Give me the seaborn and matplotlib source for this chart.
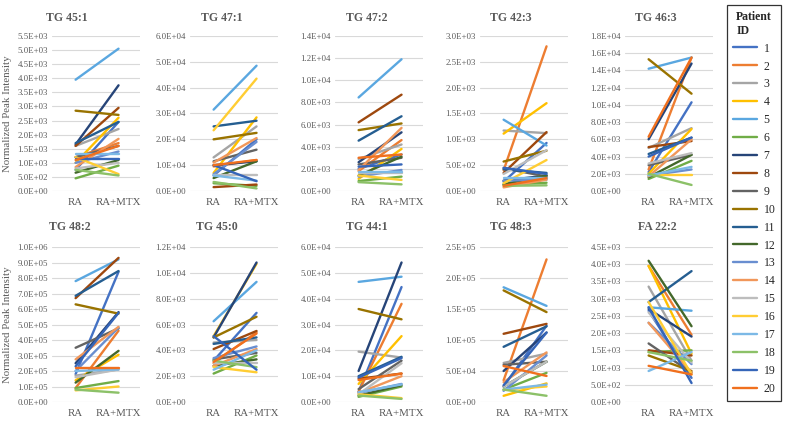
import numpy as np
import pandas as pd
import matplotlib
matplotlib.use("Agg")
import matplotlib.pyplot as plt
from matplotlib.lines import Line2D
from matplotlib.ticker import FuncFormatter, MultipleLocator
import seaborn as sns

# ---------------- data ----------------
patients = [str(i) for i in range(1, 21)]
conditions = ["RA", "RA+MTX"]
titles = ["TG 45:1", "TG 47:1", "TG 47:2", "TG 42:3", "TG 46:3",
          "TG 48:2", "TG 45:0", "TG 44:1", "TG 48:3", "FA 22:2"]

tg451_ra  = [0.75, 1.2, 1.6, 1.0, 3.95, 0.45, 1.65, 1.6, 1.2, 2.85, 1.7, 0.65, 1.0, 0.85, 0.8, 1.2, 1.3, 0.75, 1.15, 1.1]
tg451_mtx = [2.45, 1.7, 2.2, 2.6, 5.05, 0.9, 3.75, 2.95, 1.6, 2.7, 2.45, 1.1, 1.4, 1.85, 1.0, 0.6, 1.3, 0.55, 1.15, 1.6]
tg471_ra  = [0.6, 0.95, 1.3, 0.7, 3.15, 0.3, 1.0, 0.15, 1.15, 2.0, 2.5, 0.5, 0.65, 1.1, 0.6, 2.35, 0.6, 0.35, 1.0, 1.0]
tg471_mtx = [2.0, 1.2, 2.5, 2.85, 4.85, 0.2, 1.15, 0.25, 1.6, 2.25, 2.72, 1.15, 1.9, 2.05, 0.6, 4.35, 0.4, 0.1, 0.38, 1.2]
tg472_ra  = [2.0, 1.8, 2.9, 1.1, 8.45, 0.9, 2.6, 6.2, 2.4, 5.5, 4.55, 1.4, 1.3, 1.9, 1.6, 1.4, 1.7, 0.8, 2.2, 3.0]
tg472_mtx = [3.3, 4.6, 4.2, 3.8, 11.9, 1.3, 5.3, 8.7, 3.0, 6.1, 6.75, 3.1, 1.9, 5.7, 1.6, 1.0, 1.7, 0.6, 2.4, 3.3]
tg423_ra  = [1.8, 4.0, 11.7, 11.1, 13.8, 1.2, 2.0, 3.5, 4.4, 5.7, 4.2, 1.3, 2.0, 0.7, 3.3, 1.5, 2.5, 1.0, 4.5, 1.0]
tg423_mtx = [9.3, 28.0, 11.2, 17.0, 8.8, 1.6, 3.0, 11.4, 2.8, 7.8, 3.5, 3.0, 2.2, 2.2, 7.9, 6.0, 2.5, 1.1, 3.3, 2.5]
tg463_ra  = [2.2, 2.5, 5.0, 2.0, 14.2, 1.4, 6.0, 5.1, 3.0, 15.3, 4.3, 1.6, 1.8, 1.7, 3.2, 1.9, 1.8, 2.0, 4.0, 6.3]
tg463_mtx = [10.3, 15.5, 7.3, 7.2, 15.5, 3.5, 14.8, 5.8, 4.2, 11.3, 6.2, 4.2, 2.5, 6.0, 4.4, 1.9, 2.8, 0.7, 6.2, 15.5]
tg482_ra  = [1.8, 0.9, 1.7, 1.4, 7.8, 0.9, 2.5, 6.7, 3.5, 6.3, 6.85, 1.25, 2.0, 2.75, 1.6, 0.75, 2.0, 0.8, 2.3, 2.2]
tg482_mtx = [8.4, 4.6, 2.1, 3.05, 9.2, 1.35, 5.8, 9.3, 4.75, 5.7, 8.45, 3.3, 4.8, 4.85, 2.1, 1.0, 2.1, 0.6, 5.75, 2.2]
tg450_ra  = [3.2, 3.0, 4.6, 5.1, 6.25, 2.2, 5.0, 4.1, 3.3, 5.0, 4.5, 2.8, 3.4, 2.8, 3.0, 2.7, 2.5, 3.2, 5.1, 3.1]
tg450_mtx = [6.9, 5.4, 4.8, 10.7, 9.3, 3.6, 10.8, 5.5, 3.8, 6.6, 5.0, 3.3, 4.3, 4.1, 3.0, 2.3, 4.0, 2.7, 2.5, 5.3]
tg441_ra  = [0.4, 0.4, 1.95, 0.7, 4.65, 0.2, 1.2, 0.9, 0.5, 3.6, 1.0, 0.25, 0.35, 0.35, 0.3, 0.3, 0.38, 0.25, 0.95, 0.85]
tg441_mtx = [4.45, 3.8, 1.72, 2.55, 4.85, 0.6, 5.4, 1.1, 1.6, 3.2, 1.75, 0.65, 0.7, 1.0, 1.5, 0.15, 0.68, 0.12, 1.7, 1.1]
tg483_ra  = [2.5, 3.5, 6.3, 1.0, 18.5, 2.0, 5.0, 11.0, 6.0, 18.0, 8.9, 2.5, 1.8, 3.2, 2.5, 2.0, 2.0, 2.0, 2.7, 5.8]
tg483_mtx = [12.3, 23.0, 7.8, 3.0, 15.5, 4.7, 11.2, 12.6, 6.5, 14.5, 12.2, 6.5, 7.5, 8.0, 6.5, 2.5, 2.8, 1.0, 11.2, 4.2]
fa222_ra  = [2.65, 3.95, 3.35, 3.95, 2.75, 1.45, 2.7, 1.5, 1.7, 1.35, 2.9, 4.1, 2.3, 2.3, 2.6, 2.9, 0.9, 1.45, 2.75, 1.05]
fa222_mtx = [0.7, 1.95, 1.2, 1.4, 2.65, 1.5, 1.9, 1.35, 0.85, 0.9, 3.8, 2.2, 1.1, 0.85, 1.15, 0.8, 1.45, 1.2, 0.55, 0.8]

scales = [1e3, 1e4, 1e3, 1e2, 1e3, 1e5, 1e3, 1e4, 1e4, 1e3]
ra_sets = [tg451_ra, tg471_ra, tg472_ra, tg423_ra, tg463_ra,
           tg482_ra, tg450_ra, tg441_ra, tg483_ra, fa222_ra]
mtx_sets = [tg451_mtx, tg471_mtx, tg472_mtx, tg423_mtx, tg463_mtx,
            tg482_mtx, tg450_mtx, tg441_mtx, tg483_mtx, fa222_mtx]
y_max = [5.5e3, 6e4, 1.4e4, 3e3, 1.8e4, 1e6, 1.2e4, 6e4, 2.5e5, 4.5e3]
y_step = [5e2, 1e4, 2e3, 5e2, 2e3, 1e5, 2e3, 1e4, 5e4, 5e2]

colors = ["#4472C4", "#ED7D31", "#A5A5A5", "#FFC000", "#5AA7E0", "#70AD47",
          "#264478", "#9E480E", "#636363", "#997300", "#255E91", "#43682B",
          "#698ED0", "#F1975A", "#BDBDBD", "#FFCD33", "#7CB9E6", "#8CC168",
          "#3565B8", "#F0701E"]
palette = dict(zip(patients, colors))

# ---------------- style ----------------
sns.set_theme(style="white")
plt.rcParams["font.family"] = ["Liberation Serif", "DejaVu Serif"]

W, H = 785, 423
fig = plt.figure(figsize=(W / 100, H / 100), dpi=100)

lefts = [52, 190, 335, 480, 625]
ax_w = 88
rows = [(36, 191), (247, 402)]
title_x = [[67, 222, 367, 511, 656], [70, 217, 367, 511, 657]]
title_y = [18, 227]

grid_c = "#D9D9D9"
txt_c = "#595959"

for i in range(10):
    r, c = divmod(i, 5)
    top, bot = rows[r]
    ax = fig.add_axes([lefts[c] / W, 1 - bot / H, ax_w / W, (bot - top) / H])
    df = pd.DataFrame({
        "patient": patients * 2,
        "cond": [conditions[0]] * 20 + [conditions[1]] * 20,
        "val": [v * scales[i] for v in ra_sets[i]] + [v * scales[i] for v in mtx_sets[i]],
    })
    sns.lineplot(data=df, x="cond", y="val", hue="patient", palette=palette,
                 hue_order=patients, sort=False, linewidth=1.7, legend=False,
                 ax=ax, estimator=None)
    ax.set_xlim(-0.55, 1.5)
    ax.set_ylim(0, y_max[i])
    ax.yaxis.set_major_locator(MultipleLocator(y_step[i]))
    ax.yaxis.set_major_formatter(FuncFormatter(lambda v, p: f"{v:.1E}"))
    ax.grid(axis="y", color=grid_c, linewidth=0.8)
    ax.set_axisbelow(True)
    for s in ax.spines.values():
        s.set_visible(False)
    ax.tick_params(axis="both", length=0, labelsize=6.3, colors=txt_c, pad=3)
    ax.tick_params(axis="x", labelsize=7.8, pad=5)
    ax.set_xlabel("")
    ax.set_ylabel("")
    fig.text(title_x[r][c] / W, 1 - title_y[r] / H, titles[i], ha="center",
             va="center", fontsize=8.5, fontweight="bold", color=txt_c)
    if c == 0:
        ax.set_ylabel("Normalized Peak Intensity", fontsize=7.8, color=txt_c, labelpad=4)

handles = [Line2D([], [], color=palette[p], linewidth=1.7) for p in patients]
leg = fig.legend(handles, patients, title="Patient\nID", loc="upper left",
                 bbox_to_anchor=(727 / W, 1 - 5 / H), frameon=True, fancybox=False,
                 fontsize=8.5, title_fontproperties={"weight": "bold", "size": 8.5},
                 labelspacing=0.5, handlelength=2.0, handletextpad=0.6,
                 borderpad=0.5, borderaxespad=0)
leg.get_frame().set_edgecolor("black")
leg.get_frame().set_linewidth(0.9)

fig.savefig("out.png", dpi=100)
